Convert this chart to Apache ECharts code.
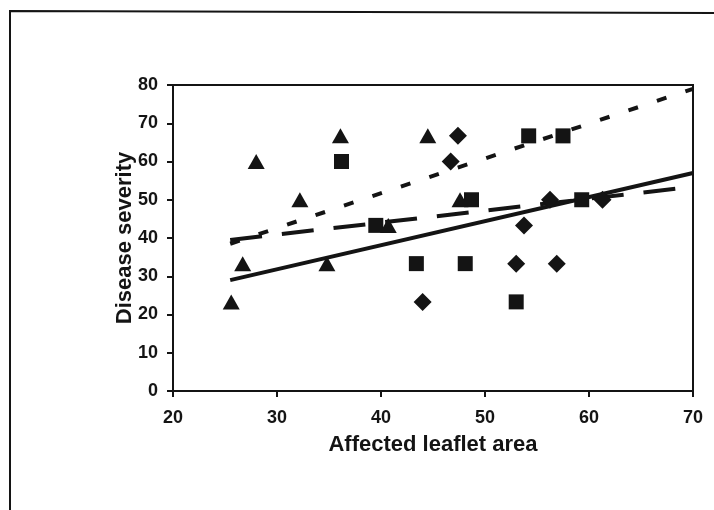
<!DOCTYPE html>
<html>
<head>
<meta charset="utf-8">
<script src="https://cdn.jsdelivr.net/npm/echarts@6/dist/echarts.min.js"></script>
<style>
html,body{margin:0;padding:0;background:#fff;}
#c{width:714px;height:510px;}
</style>
</head>
<body>
<div id="c"></div>
<script>
// Data
const triangleX = [25.6, 26.7, 28.0, 32.2, 34.8, 36.1, 40.7, 44.5, 47.6];
const triangleY = [23.3, 33.3, 60.0, 50.0, 33.3, 66.7, 43.3, 66.7, 50.0];
const squareX = [36.2, 39.5, 43.4, 48.1, 48.7, 53.0, 54.2, 57.5, 59.3];
const squareY = [60.0, 43.3, 33.3, 33.3, 50.0, 23.3, 66.7, 66.7, 50.0];
const diamondX = [44.0, 46.7, 47.4, 53.0, 53.75, 56.9, 56.25, 61.3];
const diamondY = [23.3, 60.0, 66.7, 33.3, 43.3, 33.3, 50.0, 50.0];
// Trend lines (start and end points)
const solidTrendX = [25.5, 70];
const solidTrendY = [29.0, 57.0];
const longDashTrendX = [25.5, 70];
const longDashTrendY = [39.5, 53.4];
const shortDashTrendX = [25.5, 70];
const shortDashTrendY = [38.5, 79.0];
const xTicks = [20, 30, 40, 50, 60, 70];
const yTicks = [0, 10, 20, 30, 40, 50, 60, 70, 80];

const zip = (a, b) => a.map((v, i) => [v, b[i]]);
const ink = '#141414';
const fam = 'Liberation Sans, Arial, sans-serif';

const chart = echarts.init(document.getElementById('c'), null, {renderer: 'canvas'});
const labelFont = {color: ink, fontFamily: fam, fontWeight: 'bold', fontSize: 18};

chart.setOption({
  backgroundColor: '#fff',
  animation: false,
  grid: {left: 173, top: 85, right: 21, bottom: 119, show: true, borderColor: ink, borderWidth: 2, backgroundColor: 'transparent'},
  xAxis: {
    type: 'value', min: xTicks[0], max: xTicks[xTicks.length - 1], interval: 10,
    name: 'Affected leaflet area', nameLocation: 'middle', nameGap: 43, nameMoveOverlap: false,
    nameTextStyle: {color: ink, fontFamily: fam, fontWeight: 'bold', fontSize: 22, verticalAlign: 'top'},
    axisLine: {show: true, onZero: false, lineStyle: {color: ink, width: 2}},
    axisTick: {show: true, inside: false, length: 6, lineStyle: {color: ink, width: 2}},
    axisLabel: Object.assign({margin: 18}, labelFont),
    splitLine: {show: false}
  },
  yAxis: {
    type: 'value', min: yTicks[0], max: yTicks[yTicks.length - 1], interval: 10,
    name: 'Disease severity', nameLocation: 'middle', nameGap: 37, nameRotate: 90, nameMoveOverlap: false,
    nameTextStyle: {color: ink, fontFamily: fam, fontWeight: 'bold', fontSize: 22},
    axisLine: {show: true, onZero: false, lineStyle: {color: ink, width: 2}},
    axisTick: {show: true, inside: false, length: 6, lineStyle: {color: ink, width: 2}},
    axisLabel: Object.assign({margin: 15}, labelFont),
    splitLine: {show: false}
  },
  graphic: [{
    type: 'polyline', silent: true,
    shape: {points: [[10, 510], [10, 11], [714, 13]]},
    style: {stroke: ink, lineWidth: 2, fill: null}
  }],
  series: [
    {type: 'line', data: zip(solidTrendX, solidTrendY), symbol: 'none', lineStyle: {color: ink, width: 4, type: 'solid'}, z: 2},
    {type: 'line', data: zip(longDashTrendX, longDashTrendY), symbol: 'none', lineStyle: {color: ink, width: 4, type: [32, 20]}, z: 2},
    {type: 'line', data: zip(shortDashTrendX, shortDashTrendY), symbol: 'none', lineStyle: {color: ink, width: 4, type: [10, 20]}, z: 2},
    {type: 'scatter', data: zip(triangleX, triangleY), symbol: 'triangle', symbolSize: [17, 15], itemStyle: {color: ink, opacity: 1}, z: 3},
    {type: 'scatter', data: zip(squareX, squareY), symbol: 'rect', symbolSize: 15, itemStyle: {color: ink, opacity: 1}, z: 3},
    {type: 'scatter', data: zip(diamondX, diamondY), symbol: 'diamond', symbolSize: 18, itemStyle: {color: ink, opacity: 1}, z: 3}
  ]
});
</script>
</body>
</html>
